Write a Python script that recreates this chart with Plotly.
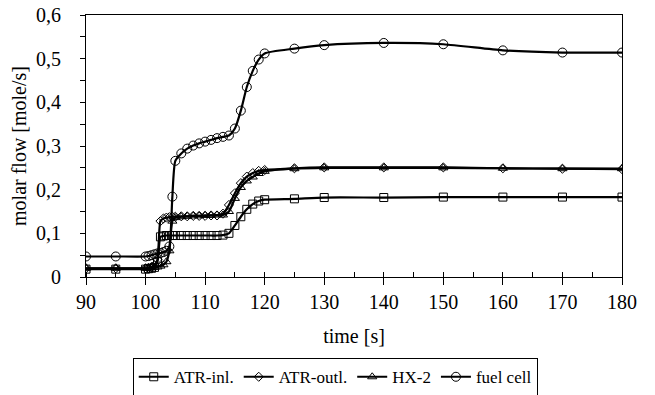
import plotly.graph_objects as go

# Sampling times [s]
time_s = [90, 95, 100, 100.5, 101, 101.5, 102, 102.5, 103, 103.5, 104, 104.5, 105,
          106, 107, 108, 109, 110, 111, 112, 113, 114, 115, 116, 117, 118, 119, 120,
          125, 130, 140, 150, 160, 170, 180]

# Molar flows [mole/s]
atr_inl = [0.018, 0.018, 0.018, 0.019, 0.020, 0.022, 0.035, 0.092, 0.094,
           0.095, 0.095, 0.095, 0.095, 0.095, 0.095, 0.095, 0.095, 0.095, 0.095, 0.095,
           0.096, 0.100, 0.118, 0.138, 0.155, 0.167, 0.174, 0.177,
           0.179, 0.182, 0.182, 0.183, 0.183, 0.183, 0.183]
atr_outl = [0.020, 0.020, 0.020, 0.021, 0.023, 0.027, 0.040, 0.128, 0.134,
            0.136, 0.137, 0.138, 0.138, 0.139, 0.139, 0.140, 0.140, 0.140, 0.141, 0.141,
            0.145, 0.165, 0.192, 0.215, 0.230, 0.238, 0.243, 0.245,
            0.249, 0.251, 0.251, 0.251, 0.249, 0.248, 0.247]
hx_2 = [0.020, 0.020, 0.020, 0.020, 0.021, 0.022, 0.023, 0.025, 0.028,
        0.035, 0.060, 0.128, 0.136, 0.138, 0.139, 0.140, 0.140, 0.141, 0.141, 0.142,
        0.142, 0.150, 0.180, 0.205, 0.220, 0.229, 0.237, 0.242,
        0.248, 0.250, 0.250, 0.250, 0.249, 0.248, 0.248]
fuel_cell = [0.047, 0.047, 0.047, 0.048, 0.050, 0.052, 0.054, 0.055, 0.057,
             0.060, 0.070, 0.184, 0.266, 0.283, 0.294, 0.301, 0.306, 0.310, 0.314, 0.318,
             0.321, 0.324, 0.340, 0.381, 0.435, 0.472, 0.498, 0.512,
             0.523, 0.531, 0.536, 0.533, 0.519, 0.514, 0.514]

series_names = ["ATR-inl.", "ATR-outl.", "HX-2", "fuel cell"]
series_values = [atr_inl, atr_outl, hx_2, fuel_cell]
series_symbols = ["square-open", "diamond-open", "triangle-up-open", "circle-open"]
series_sizes = [8, 7, 8, 9]

FONT = "Liberation Serif, serif"
TICKFONT = dict(family=FONT, size=20, color="black")

fig = go.Figure()
for name, vals, sym, size in zip(series_names, series_values, series_symbols, series_sizes):
    fig.add_trace(go.Scatter(
        x=time_s, y=vals, name=name, mode="lines+markers",
        line=dict(color="black", width=2.2, shape="spline", smoothing=0.6),
        marker=dict(symbol=sym, size=size, color="black",
                    line=dict(color="black", width=1)),
    ))

fig.update_layout(
    template="none",
    width=655, height=395,
    margin=dict(l=86, r=33, t=15, b=118, autoexpand=False),
    paper_bgcolor="white", plot_bgcolor="white",
    separators=", ",
    font=dict(family=FONT, size=20, color="black"),
    showlegend=True,
    legend=dict(
        orientation="h", x=0.465, xanchor="center", y=-0.31, yanchor="top",
        bordercolor="black", borderwidth=1, bgcolor="white",
        font=dict(family=FONT, size=17, color="black"),
        itemwidth=30, tracegroupgap=0,
    ),
    xaxis=dict(
        range=[90, 180], dtick=10, tick0=90,
        showgrid=False, zeroline=False,
        showline=True, linecolor="black", linewidth=1, mirror=True,
        ticks="outside", ticklen=7, tickcolor="black", tickwidth=1,
        minor=dict(dtick=5, ticks="inside", ticklen=5, tickcolor="black", showgrid=False),
        title=dict(text="time [s]", font=dict(family=FONT, size=20), standoff=16),
        tickfont=TICKFONT,
    ),
    yaxis=dict(
        range=[0, 0.6], dtick=0.1, tick0=0,
        showgrid=False, zeroline=False,
        showline=True, linecolor="black", linewidth=1, mirror=True,
        ticks="outside", ticklen=5, tickcolor="black", tickwidth=1,
        minor=dict(dtick=0.05, ticks="outside", ticklen=5, tickcolor="black", showgrid=False),
        ticksuffix="\u00a0\u00a0\u00a0",
        title=dict(text="molar flow [mole/s]", font=dict(family=FONT, size=20), standoff=4),
        tickfont=TICKFONT,
    ),
)

fig.write_html("out.html")
